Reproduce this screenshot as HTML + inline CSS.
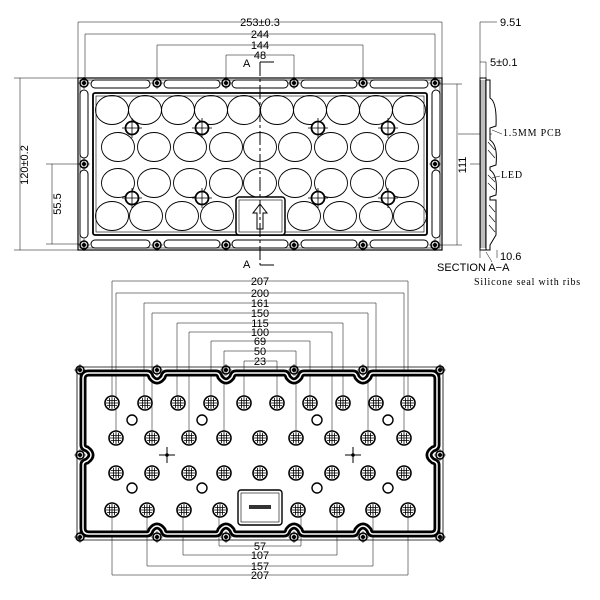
<!DOCTYPE html>
<html><head><meta charset="utf-8"><style>
body{margin:0;background:#fff}
svg{display:block}
text{font-family:"Liberation Sans",sans-serif;font-size:11px;fill:#000}
.s{font-family:"Liberation Serif",serif;font-size:10px;letter-spacing:0.8px}
</style></head><body>
<svg width="600" height="600" viewBox="0 0 600 600">
<defs>
<g id="led"><circle r="7" fill="#fff" stroke="#000" stroke-width="1.6"/><path d="M-5 -2.5H5M-6 0H6M-5 2.5H5M-2.5 -5V5M0 -6V6M2.5 -5V5" stroke="#000" stroke-width="0.8"/></g>
<g id="hole"><circle r="4" fill="none" stroke="#000" stroke-width="1.5"/><circle r="2" fill="#000"/><path d="M-6 0H6M0 -6V6" stroke="#000" stroke-width="0.6"/></g>
<g id="tc"><circle r="6.5" fill="#fff" stroke="#000" stroke-width="1.8"/><path d="M-10 0H10M0 -10V10" stroke="#000" stroke-width="0.8"/></g>
<ellipse id="ov" rx="16.5" ry="14.5" fill="none" stroke="#000" stroke-width="0.9"/>
<path id="gk" d="M83 379Q83 373 89 373L147 373Q150 373 151 377Q157 385 163 377Q164 373 167 373L216 373Q219 373 220 377Q226 385 232 377Q233 373 236 373L284 373Q287 373 288 377Q294 385 300 377Q301 373 304 373L353 373Q356 373 357 377Q363 385 369 377Q370 373 373 373L431 373Q437 373 437 379L437 445Q437 448 433 449Q425 455 433 461Q437 462 437 465L437 528Q437 534 431 534L373 534Q370 534 369 530Q363 522 357 530Q356 534 353 534L304 534Q301 534 300 530Q294 522 288 530Q287 534 284 534L236 534Q233 534 232 530Q226 522 220 530Q219 534 216 534L167 534Q164 534 163 530Q157 522 151 530Q150 534 147 534L89 534Q83 534 83 528L83 465Q83 462 87 461Q95 455 87 449Q83 448 83 445Z"/>
</defs>
<g stroke="#000" stroke-width="0.5" fill="none">
<path d="M78 22H442M85 34H435M157 45H363M226 55H294"/>
<path d="M78 22V80M442 22V80M85 34V82M435 34V82M157 45V82M363 45V82M226 55V82M294 55V82"/>
<path d="M20 78V250M14 78H78M14 250H78M52 164V244M46 164H80M46 244H80M457 84V245M440 84H462M440 245H462"/>
</g>
<text x="260" y="26" text-anchor="middle">253±0.3</text>
<text x="260" y="38" text-anchor="middle">244</text>
<text x="260" y="49" text-anchor="middle">144</text>
<text x="260" y="59" text-anchor="middle">48</text>
<text transform="translate(28 165) rotate(-90)" text-anchor="middle">120±0.2</text>
<text transform="translate(61 204) rotate(-90)" text-anchor="middle">55.5</text>
<text transform="translate(466 165) rotate(-90)" text-anchor="middle">111</text>
<g fill="none" stroke="#000">
<rect x="78" y="78" width="364" height="172" stroke-width="1.2"/>
<rect x="80" y="80" width="360" height="168" stroke-width="0.6"/>
<rect x="93" y="93" width="334" height="142" stroke-width="1.8" rx="2"/>
<rect x="96" y="96" width="328" height="136" stroke-width="0.6"/>
<g stroke-width="1">
<rect x="91" y="80" width="59" height="8" rx="4"/><rect x="164" y="80" width="56" height="8" rx="4"/><rect x="232" y="80" width="56" height="8" rx="4"/><rect x="301" y="80" width="56" height="8" rx="4"/><rect x="370" y="80" width="58" height="8" rx="4"/>
<rect x="91" y="240" width="59" height="8" rx="4"/><rect x="164" y="240" width="56" height="8" rx="4"/><rect x="232" y="240" width="56" height="8" rx="4"/><rect x="301" y="240" width="56" height="8" rx="4"/><rect x="370" y="240" width="58" height="8" rx="4"/>
<rect x="80" y="90" width="8" height="68" rx="4"/><rect x="80" y="170" width="8" height="68" rx="4"/>
<rect x="432" y="90" width="8" height="68" rx="4"/><rect x="432" y="170" width="8" height="68" rx="4"/>
</g>
</g>
<g>
<use href="#hole" x="84" y="83"/><use href="#hole" x="157" y="83"/><use href="#hole" x="226" y="83"/><use href="#hole" x="294" y="83"/><use href="#hole" x="363" y="83"/><use href="#hole" x="435" y="83"/>
<use href="#hole" x="84" y="245"/><use href="#hole" x="157" y="245"/><use href="#hole" x="226" y="245"/><use href="#hole" x="294" y="245"/><use href="#hole" x="363" y="245"/><use href="#hole" x="435" y="245"/>
<use href="#hole" x="84" y="164"/><use href="#hole" x="435" y="164"/>
</g>
<g>
<use href="#ov" x="112" y="110"/><use href="#ov" x="145" y="110"/><use href="#ov" x="178" y="110"/><use href="#ov" x="211" y="110"/><use href="#ov" x="244" y="110"/><use href="#ov" x="277" y="110"/><use href="#ov" x="310" y="110"/><use href="#ov" x="343" y="110"/><use href="#ov" x="376" y="110"/><use href="#ov" x="409" y="110"/>
<use href="#ov" x="118" y="147"/><use href="#ov" x="154" y="147"/><use href="#ov" x="190" y="147"/><use href="#ov" x="226" y="147"/><use href="#ov" x="260" y="147"/><use href="#ov" x="295" y="147"/><use href="#ov" x="331" y="147"/><use href="#ov" x="367" y="147"/><use href="#ov" x="402" y="147"/>
<use href="#ov" x="118" y="183"/><use href="#ov" x="154" y="183"/><use href="#ov" x="190" y="183"/><use href="#ov" x="226" y="183"/><use href="#ov" x="260" y="183"/><use href="#ov" x="295" y="183"/><use href="#ov" x="331" y="183"/><use href="#ov" x="367" y="183"/><use href="#ov" x="402" y="183"/>
<use href="#ov" x="112" y="216"/><use href="#ov" x="146" y="216"/><use href="#ov" x="182" y="216"/><use href="#ov" x="217" y="216"/><use href="#ov" x="304" y="216"/><use href="#ov" x="340" y="216"/><use href="#ov" x="376" y="216"/><use href="#ov" x="410" y="216"/>
</g>
<rect x="236" y="197" width="49" height="38" rx="3" fill="#fff" stroke="#000" stroke-width="1.5"/>
<rect x="239" y="200" width="43" height="32" fill="none" stroke="#000" stroke-width="0.6"/>
<path d="M260 204L267 213H263V229H257V213H253Z" fill="none" stroke="#000" stroke-width="1"/>
<g>
<use href="#tc" x="132" y="128"/><use href="#tc" x="202" y="128"/><use href="#tc" x="318" y="128"/><use href="#tc" x="388" y="128"/>
<use href="#tc" x="132" y="198"/><use href="#tc" x="202" y="198"/><use href="#tc" x="318" y="198"/><use href="#tc" x="388" y="198"/>
</g>
<path d="M260 62V265M260 62H275M260 265H275" stroke="#000" stroke-width="1" stroke-dasharray="14 3 3 3" fill="none"/>
<text x="243" y="67" font-size="9">A</text><text x="243" y="268" font-size="9">A</text>
<g stroke="#000" fill="none" stroke-width="0.5">
<path d="M480 22V78M480 22H497M480 62H486M486 62V78M497 250V258M480 250V258M458 134H492M470 164H484"/>
</g>
<path d="M480 78H486V250H480Z" fill="#fff" stroke="#000" stroke-width="1"/>
<path d="M481 80V248M483 80V248M485 80V248" stroke="#444" stroke-width="0.7"/>
<path d="M486 80L490 80L490 98Q497 102 496 126L490 128V140Q498 145 496 165L490 167V170Q498 175 496 195L490 197V200L496 200V235L490 245V250H486Z" fill="#fff" stroke="#000" stroke-width="1"/>
<path d="M488 142L495 150M488 150L495 158M488 175L495 182M488 183L495 190M489 205L495 212M489 215L495 222M489 225L495 232" stroke="#000" stroke-width="0.6"/>
<path d="M492 130L502 134M492 178L500 176M486 252L492 262" stroke="#000" stroke-width="0.5"/>
<text x="500" y="26">9.51</text>
<text x="490" y="66">5±0.1</text>
<text x="500" y="260">10.6</text>
<text x="437" y="271" font-size="10">SECTION A−A</text>
<text class="s" x="503" y="136">1.5MM PCB</text>
<text class="s" x="501" y="178">LED</text>
<text class="s" x="474" y="285">Silicone seal with ribs</text>
<g stroke="#000" stroke-width="0.5" fill="none">
<path d="M112 281H408M116 293H404M144 303H376M152 313H368M177 323H343M189 332H332M211 341H310M224 351H296M244 361H277"/>
<path d="M112 281V403M408 281V403M116 293V438M404 293V438M144 303V403M376 303V403M152 313V438M368 313V438M177 323V403M343 323V403M189 332V438M332 332V438M211 341V403M310 341V403M224 351V438M296 351V438M244 361V403M277 361V403"/>
<path d="M219 546H301M183 555H337M147 566H373M112 575H408"/>
<path d="M219 510V546M301 510V546M183 510V555M337 510V555M147 510V566M373 510V566M112 510V575M408 510V575"/>
</g>
<g text-anchor="middle">
<text x="260" y="285">207</text><text x="260" y="297">200</text><text x="260" y="307">161</text><text x="260" y="317">150</text><text x="260" y="327">115</text><text x="260" y="336">100</text><text x="260" y="345">69</text><text x="260" y="355">50</text><text x="260" y="365">23</text>
<text x="260" y="550">57</text><text x="260" y="559">107</text><text x="260" y="570">157</text><text x="260" y="579">207</text>
</g>
<rect x="77" y="367" width="366" height="173" rx="4" fill="none" stroke="#000" stroke-width="0.8"/>
<use href="#gk" fill="none" stroke="#000" stroke-width="7"/>
<use href="#gk" fill="none" stroke="#fff" stroke-width="1.5"/>
<g>
<use href="#hole" x="80" y="370"/><use href="#hole" x="157" y="370"/><use href="#hole" x="226" y="370"/><use href="#hole" x="294" y="370"/><use href="#hole" x="363" y="370"/><use href="#hole" x="440" y="370"/>
<use href="#hole" x="80" y="537"/><use href="#hole" x="157" y="537"/><use href="#hole" x="226" y="537"/><use href="#hole" x="294" y="537"/><use href="#hole" x="363" y="537"/><use href="#hole" x="440" y="537"/>
<use href="#hole" x="80" y="455"/><use href="#hole" x="440" y="455"/>
</g>
<g>
<use href="#led" x="112" y="403"/><use href="#led" x="145" y="403"/><use href="#led" x="178" y="403"/><use href="#led" x="211" y="403"/><use href="#led" x="244" y="403"/><use href="#led" x="277" y="403"/><use href="#led" x="310" y="403"/><use href="#led" x="343" y="403"/><use href="#led" x="376" y="403"/><use href="#led" x="408" y="403"/>
<use href="#led" x="116" y="438"/><use href="#led" x="152" y="438"/><use href="#led" x="189" y="438"/><use href="#led" x="224" y="438"/><use href="#led" x="260" y="438"/><use href="#led" x="296" y="438"/><use href="#led" x="332" y="438"/><use href="#led" x="368" y="438"/><use href="#led" x="404" y="438"/>
<use href="#led" x="116" y="473"/><use href="#led" x="152" y="473"/><use href="#led" x="189" y="473"/><use href="#led" x="224" y="473"/><use href="#led" x="260" y="473"/><use href="#led" x="296" y="473"/><use href="#led" x="332" y="473"/><use href="#led" x="368" y="473"/><use href="#led" x="404" y="473"/>
<use href="#led" x="112" y="510"/><use href="#led" x="147" y="510"/><use href="#led" x="184" y="510"/><use href="#led" x="220" y="510"/><use href="#led" x="298" y="510"/><use href="#led" x="337" y="510"/><use href="#led" x="373" y="510"/><use href="#led" x="408" y="510"/>
</g>
<g fill="none" stroke="#000" stroke-width="1.4">
<circle cx="132" cy="420" r="5"/><circle cx="202" cy="420" r="5"/><circle cx="317" cy="420" r="5"/><circle cx="388" cy="420" r="5"/>
<circle cx="132" cy="488" r="5"/><circle cx="202" cy="488" r="5"/><circle cx="317" cy="488" r="5"/><circle cx="388" cy="488" r="5"/>
</g>
<path d="M159 455H175M167 447V463M345 455H361M353 447V463" stroke="#000" stroke-width="1"/>
<circle cx="167" cy="455" r="1.8"/><circle cx="353" cy="455" r="1.8"/>
<rect x="238" y="490" width="44" height="35" rx="3" fill="#fff" stroke="#000" stroke-width="1.4"/>
<rect x="241" y="493" width="38" height="29" fill="none" stroke="#000" stroke-width="0.6"/>
<rect x="249" y="505" width="22" height="4" fill="#333"/>
</svg>
</body></html>
